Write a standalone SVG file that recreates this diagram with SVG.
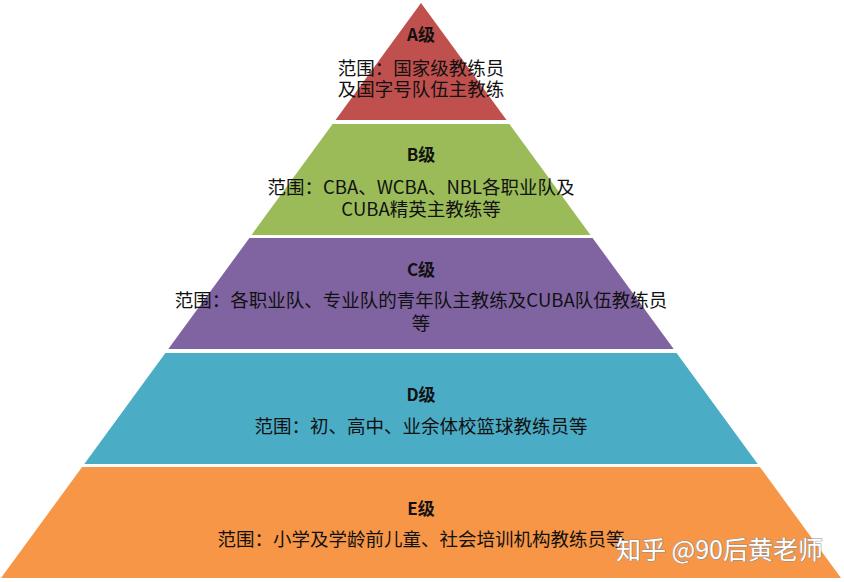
<svg xmlns="http://www.w3.org/2000/svg" width="844" height="582" viewBox="0 0 844 582">
<style>
  .t { font-family: "Noto Sans CJK SC", "Noto Sans", sans-serif; font-size: 18.5px; fill: #111; text-anchor: middle; dominant-baseline: central; }
  .h { font-family: "Noto Sans CJK SC", "Noto Sans", sans-serif; font-size: 17px; font-weight: bold; fill: #111; text-anchor: middle; dominant-baseline: central; }
  .wm { font-family: "Noto Sans CJK SC", "Noto Sans", sans-serif; font-size: 25px; fill: #fff; stroke: #8a8a8a; stroke-width: 1; paint-order: stroke; text-anchor: end; dominant-baseline: central; }
</style>
<rect width="844" height="582" fill="#ffffff"/>
<g id="level-A">
  <polygon points="421,3 506.5,120 335.5,120" fill="#C0504D"/>
  <text class="h" x="421" y="33">A级</text>
  <text class="t" x="421" y="67">范围：国家级教练员<tspan x="421" dy="21">及国字号队伍主教练</tspan></text>
</g>
<g id="level-B">
  <polygon points="332.6,124 509.4,124 590.5,235 251.5,235" fill="#9BBB59"/>
  <text class="h" x="421" y="153">B级</text>
  <text class="t" x="421" y="186">范围：CBA、WCBA、NBL各职业队及<tspan x="421" dy="22">CUBA精英主教练等</tspan></text>
</g>
<g id="level-C">
  <polygon points="249.4,238 592.6,238 673.7,349 168.3,349" fill="#8064A2"/>
  <text class="h" x="421" y="268">C级</text>
  <text class="t" x="421" y="299">范围：各职业队、专业队的青年队主教练及CUBA队伍教练员<tspan x="421" dy="23">等</tspan></text>
</g>
<g id="level-D">
  <polygon points="165.4,353 676.6,353 757.7,464 84.3,464" fill="#4BACC6"/>
  <text class="h" x="421" y="393">D级</text>
  <text class="t" x="421" y="425">范围：初、高中、业余体校篮球教练员等</text>
</g>
<g id="level-E">
  <polygon points="82.1,467 759.9,467 841,578 1,578" fill="#F79646"/>
  <text class="h" x="421" y="507">E级</text>
  <text class="t" x="421" y="538">范围：小学及学龄前儿童、社会培训机构教练员等</text>
</g>
<g id="connectors"/>
<text class="wm" x="823" y="548">知乎 @90后黄老师</text>
</svg>
